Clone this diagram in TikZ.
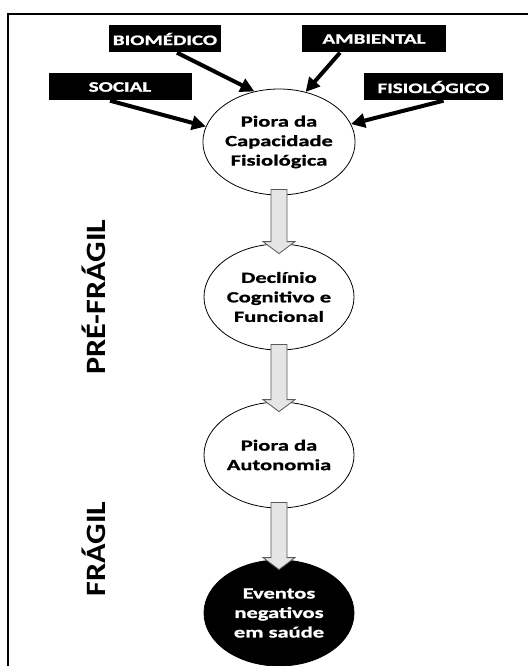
\documentclass[tikz,border=0pt]{standalone}
\usepackage{fontspec}
\setmainfont{Carlito}
\newfontfamily\widefont[FakeStretch=1.45,FakeBold=1.2]{Carlito}
\newfontfamily\sidefont[FakeStretch=1.15]{Carlito}
\usetikzlibrary{arrows.meta,shapes.geometric}

\begin{document}
\begin{tikzpicture}[x=1pt,y=-1pt,
    factor/.style={fill=black, text=white, inner sep=0pt, minimum height=27pt,
      font=\widefont\bfseries\fontsize{14.5}{16}\selectfont},
    stage/.style={ellipse, draw, line width=0.8pt, fill=white, inner sep=0pt,
      minimum width=150pt, minimum height=106pt, align=center,
      font=\widefont\bfseries\fontsize{15.5}{19.5}\selectfont},
    push/.style={line width=4pt, -{Triangle[length=14pt,width=14pt]}},
    blockarrow/.style={draw=gray!70!black, fill=gray!20, line width=0.8pt},
    phase/.style={rotate=90, font=\sidefont\bfseries\fontsize{28}{32}\selectfont}]
    \useasboundingbox (0,0) rectangle (528,666);
    \draw[line width=2pt] (8,666) -- (8,14) -- (528,14);

    % factors
    \node[factor, minimum width=112pt] (bio) at (165,39) {BIOMÉDICO};
    \node[factor, minimum width=144pt] (amb) at (374,39) {AMBIENTAL};
    \node[factor, minimum width=143pt] (soc) at (120,87) {SOCIAL};
    \node[factor, minimum width=139pt] (fis) at (433.5,87) {FISIOLÓGICO};

    % stages
    \node[stage] (e1) at (279,142) {Piora da\\Capacidade\\Fisiológica};
    \node[stage] (e2) at (279,297) {Declínio\\Cognitivo e\\Funcional};
    \node[stage] (e3) at (279,455) {Piora da\\Autonomia};
    \node[stage, fill=black, text=white] (e4) at (279,613) {Eventos\\negativos\\em saúde};

    \node[phase] (pre) at (94,297) {PRÉ-FRÁGIL};
    \node[phase] (fra) at (94,549) {FRÁGIL};

    \draw[push] ([xshift=12pt]bio.south) -- (e1.116);
    \draw[push] ([xshift=-34pt]amb.south) -- (e1.62);
    \draw[push] ([xshift=-10pt]soc.south) -- (e1.168);
    \draw[push] ([xshift=10pt]fis.south) -- (e1.14);

    \foreach \a/\b in {e1/e2,e2/e3,e3/e4}
      \draw[blockarrow] ([xshift=-8pt,yshift=6pt]\a.south) -- ([xshift=-8pt,yshift=2pt]\b.north)
        -- ([xshift=-16pt,yshift=2pt]\b.north) -- ([yshift=-10pt]\b.north)
        -- ([xshift=16pt,yshift=2pt]\b.north) -- ([xshift=8pt,yshift=2pt]\b.north)
        -- ([xshift=8pt,yshift=6pt]\a.south) -- cycle;
\end{tikzpicture}
\end{document}
